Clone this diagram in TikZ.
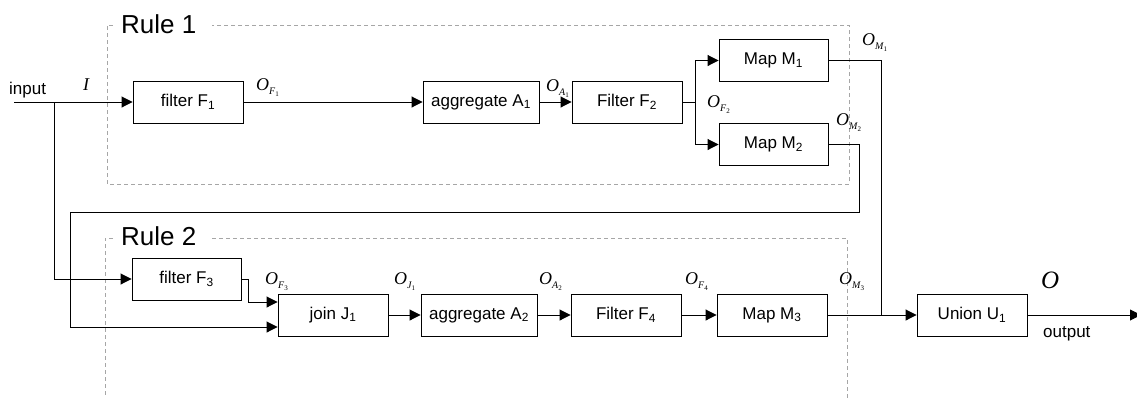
\documentclass[tikz,border=0pt]{standalone}
\usepackage{fontspec}
\setmainfont{Liberation Sans}
\newfontfamily\tms{Liberation Serif}
\usetikzlibrary{arrows.meta}
\newcommand{\OL}[2]{{\tms\itshape O}\raisebox{-4.5pt}{\fontsize{10}{10}\selectfont\tms\itshape #1\raisebox{-2pt}{\fontsize{7}{7}\selectfont\upshape #2}}}
\begin{document}
\begin{tikzpicture}[x=1pt,y=-1pt,
  blk/.style={draw, line width=0.9pt, minimum width=110pt, minimum height=42pt, inner sep=0pt, font=\fontsize{17}{17}\selectfont},
  arr/.style={line width=0.9pt, -{Triangle[length=11pt,width=11pt]}},
  ln/.style={line width=0.9pt},
  lab/.style={anchor=base west, inner sep=0pt, font=\fontsize{18}{18}\selectfont},
  txt/.style={anchor=base west, inner sep=0pt, font=\fontsize{17}{17}\selectfont},
  rul/.style={draw=black!35, dash pattern=on 4pt off 3pt, line width=0.9pt},
  rtitle/.style={anchor=base west, inner sep=0pt, font=\fontsize{26}{26}\selectfont}]
\useasboundingbox (0,0) rectangle (1137,397);

% rule boxes
\draw[rul] (113,25) -- (107,25) -- (107,184) -- (849,184) -- (849,25) -- (212,25);
\node[rtitle] (r1) at (121,33) {Rule 1};
\draw[rul] (113,238) -- (105,238) -- (105,400);
\draw[rul] (212,238) -- (847,238) -- (847,400);
\node[rtitle] (r2) at (121,245) {Rule 2};

% boxes
\node[blk] (F1) at (188,102) {filter F\textsubscript{1}};
\node[blk, minimum width=116pt] (A1) at (481,102) {aggregate A\textsubscript{1}};
\node[blk] (F2) at (627,102) {Filter F\textsubscript{2}};
\node[blk, minimum width=109pt] (M1) at (773.5,60.5) {Map M\textsubscript{1}};
\node[blk, minimum width=109pt] (M2) at (773.5,144.5) {Map M\textsubscript{2}};
\node[blk, minimum width=109pt] (F3) at (186.5,279) {filter F\textsubscript{3}};
\node[blk] (J1) at (333,315) {join J\textsubscript{1}};
\node[blk, minimum width=116pt] (A2) at (479,315) {aggregate A\textsubscript{2}};
\node[blk] (F4) at (626,315) {Filter F\textsubscript{4}};
\node[blk] (M3) at (772,315) {Map M\textsubscript{3}};
\node[blk] (U1) at (972,315) {Union U\textsubscript{1}};

% coordinates
\coordinate (in) at (14,102);
\coordinate (jin) at (54,102);
\coordinate (jf2) at (695,102);
\coordinate (jm1) at (881,315);
\coordinate (m2a) at (859,212);
\coordinate (m2b) at (70,212);
\coordinate (f3a) at (248,279);
\coordinate (out) at (1141,315);

% connectors
\draw[arr] (in) -- (F1.west);
\draw[arr] (jin) |- (F3.west);
\draw[arr] (F1) -- (A1);
\draw[arr] (A1) -- (F2);
\draw[ln] (F2.east) -- (jf2);
\draw[arr] (jf2) |- (M1.west);
\draw[arr] (jf2) |- (M2.west);
\draw[ln] (M1.east) -| (jm1);
\draw[ln] (M2.east) -| (m2a) -- (m2b);
\draw[arr] (m2b) |- ([yshift=-12pt]J1.west);
\draw[ln] (F3.east) -- (f3a);
\draw[arr] (f3a) |- ([yshift=13pt]J1.west);
\draw[arr] (J1) -- (A2);
\draw[arr] (A2) -- (F4);
\draw[arr] (F4) -- (M3);
\draw[arr] (M3) -- (U1);
\draw[arr] (U1) -- (out);

% labels
\node[txt] (linput) at (9,94) {input};
\node[lab] (lI) at (83,90) {\tms\itshape I};
\node[lab] (lF1) at (256,90) {\OL{F}{1}};
\node[lab] (lA1) at (546,91) {\OL{A}{1}};
\node[lab] (lF2) at (707,107) {\OL{F}{2}};
\node[lab] (lM1) at (862,45) {\OL{M}{1}};
\node[lab] (lM2) at (836,125) {\OL{M}{2}};
\node[lab] (lF3) at (265,284) {\OL{F}{3}};
\node[lab] (lJ1) at (394,284) {\OL{J}{1}};
\node[lab] (lA2) at (539,284) {\OL{A}{2}};
\node[lab] (lF4) at (685,284) {\OL{F}{4}};
\node[lab] (lM3) at (839,284) {\OL{M}{3}};
\node[lab, font=\fontsize{25}{25}\selectfont] (lO) at (1041,288) {\tms\itshape O};
\node[txt] (loutput) at (1043,337) {output};
\end{tikzpicture}
\end{document}
